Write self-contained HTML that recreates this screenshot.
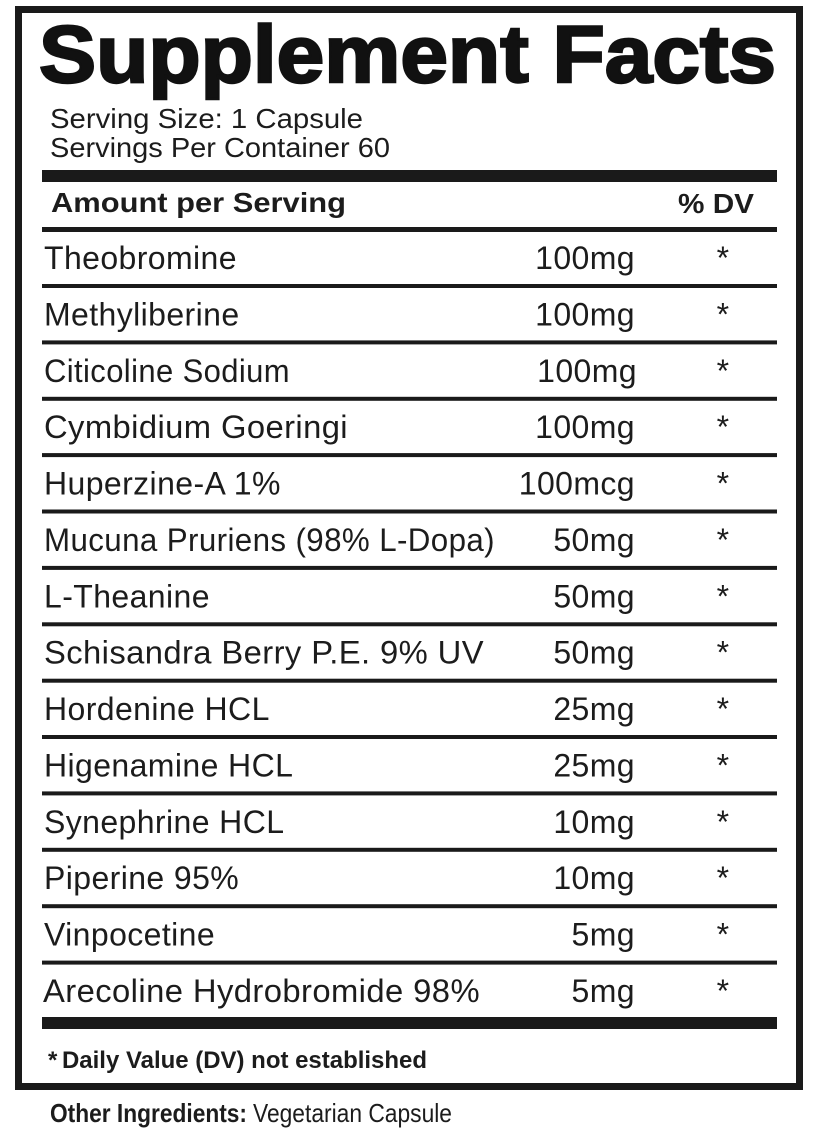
<!DOCTYPE html>
<html>
<head>
<meta charset="utf-8">
<style>
  html, body { margin: 0; padding: 0; background: #ffffff; }
  body { width: 816px; height: 1141px; overflow: hidden; }
  svg { display: block; }
  text { font-family: "Liberation Sans", Arial, sans-serif; fill: #1c1c1c; }
  .b { font-weight: 700; }
  .row { font-size: 32px; letter-spacing: 0.4px; }
</style>
</head>
<body>
<svg width="816" height="1141" viewBox="0 0 816 1141" xmlns="http://www.w3.org/2000/svg">
  <rect x="0" y="0" width="816" height="1141" fill="#ffffff"/>
  <!-- outer border -->
  <rect x="18.5" y="9.5" width="781" height="1077" fill="none" stroke="#1a1a1a" stroke-width="7"/>

  <!-- title -->
  <text x="39" y="82" class="b" font-size="81" stroke="#111" stroke-width="2.4" style="fill:#111" textLength="737" lengthAdjust="spacingAndGlyphs">Supplement Facts</text>

  <!-- serving info -->
  <text x="50" y="128" font-size="28" textLength="313" lengthAdjust="spacingAndGlyphs">Serving Size: 1 Capsule</text>
  <text x="50" y="157" font-size="28" textLength="340" lengthAdjust="spacingAndGlyphs">Servings Per Container 60</text>

  <rect x="42" y="170" width="735" height="12" fill="#1a1a1a"/>

  <text x="51" y="212" class="b" font-size="28" textLength="295" lengthAdjust="spacingAndGlyphs">Amount per Serving</text>
  <text x="678" y="213" class="b" font-size="28" textLength="76" lengthAdjust="spacingAndGlyphs">% DV</text>

  <rect x="42" y="227" width="735" height="5" fill="#1a1a1a"/>

  <!-- rows -->
  <g class="row">
    <text x="44" y="269">Theobromine</text>
    <text x="635" y="269" text-anchor="end">100mg</text>
    <text x="723" y="269" text-anchor="middle">*</text>

    <text x="44" y="325.4">Methyliberine</text>
    <text x="635" y="325.4" text-anchor="end">100mg</text>
    <text x="723" y="325.4" text-anchor="middle">*</text>

    <text x="44" y="381.8" textLength="246" lengthAdjust="spacingAndGlyphs">Citicoline Sodium</text>
    <text x="637" y="381.8" text-anchor="end">100mg</text>
    <text x="723" y="381.8" text-anchor="middle">*</text>

    <text x="44" y="438.1" textLength="304" lengthAdjust="spacingAndGlyphs">Cymbidium Goeringi</text>
    <text x="635" y="438.1" text-anchor="end">100mg</text>
    <text x="723" y="438.1" text-anchor="middle">*</text>

    <text x="44" y="494.5">Huperzine-A 1%</text>
    <text x="635" y="494.5" text-anchor="end">100mcg</text>
    <text x="723" y="494.5" text-anchor="middle">*</text>

    <text x="44" y="550.9" textLength="451" lengthAdjust="spacingAndGlyphs">Mucuna Pruriens (98% L-Dopa)</text>
    <text x="635" y="550.9" text-anchor="end">50mg</text>
    <text x="723" y="550.9" text-anchor="middle">*</text>

    <text x="44" y="607.3">L-Theanine</text>
    <text x="635" y="607.3" text-anchor="end">50mg</text>
    <text x="723" y="607.3" text-anchor="middle">*</text>

    <text x="44" y="663.7" textLength="440" lengthAdjust="spacingAndGlyphs">Schisandra Berry P.E. 9% UV</text>
    <text x="635" y="663.7" text-anchor="end">50mg</text>
    <text x="723" y="663.7" text-anchor="middle">*</text>

    <text x="44" y="720">Hordenine HCL</text>
    <text x="635" y="720" text-anchor="end">25mg</text>
    <text x="723" y="720" text-anchor="middle">*</text>

    <text x="44" y="776.4">Higenamine HCL</text>
    <text x="635" y="776.4" text-anchor="end">25mg</text>
    <text x="723" y="776.4" text-anchor="middle">*</text>

    <text x="44" y="832.8">Synephrine HCL</text>
    <text x="635" y="832.8" text-anchor="end">10mg</text>
    <text x="723" y="832.8" text-anchor="middle">*</text>

    <text x="44" y="889.2">Piperine 95%</text>
    <text x="635" y="889.2" text-anchor="end">10mg</text>
    <text x="723" y="889.2" text-anchor="middle">*</text>

    <text x="44" y="945.6">Vinpocetine</text>
    <text x="635" y="945.6" text-anchor="end">5mg</text>
    <text x="723" y="945.6" text-anchor="middle">*</text>

    <text x="43" y="1001.9" textLength="437" lengthAdjust="spacingAndGlyphs">Arecoline Hydrobromide 98%</text>
    <text x="635" y="1001.9" text-anchor="end">5mg</text>
    <text x="723" y="1001.9" text-anchor="middle">*</text>
  </g>

  <!-- row separators -->
  <g fill="#1a1a1a">
    <rect x="42" y="284" width="735" height="4"/>
    <rect x="42" y="340.4" width="735" height="4"/>
    <rect x="42" y="396.8" width="735" height="4"/>
    <rect x="42" y="453.1" width="735" height="4"/>
    <rect x="42" y="509.5" width="735" height="4"/>
    <rect x="42" y="565.9" width="735" height="4"/>
    <rect x="42" y="622.3" width="735" height="4"/>
    <rect x="42" y="678.7" width="735" height="4"/>
    <rect x="42" y="735" width="735" height="4"/>
    <rect x="42" y="791.4" width="735" height="4"/>
    <rect x="42" y="847.8" width="735" height="4"/>
    <rect x="42" y="904.2" width="735" height="4"/>
    <rect x="42" y="960.6" width="735" height="4"/>
  </g>

  <rect x="42" y="1017" width="735" height="12" fill="#1a1a1a"/>

  <!-- footnote -->
  <text x="48" y="1068" class="b" font-size="24">*</text>
  <text x="62" y="1068" class="b" font-size="24" textLength="365" lengthAdjust="spacingAndGlyphs">Daily Value (DV) not established</text>

  <!-- other ingredients -->
  <text x="50" y="1122" class="b" font-size="26" textLength="197" lengthAdjust="spacingAndGlyphs">Other Ingredients:</text>
  <text x="253" y="1122" font-size="26" textLength="199" lengthAdjust="spacingAndGlyphs">Vegetarian Capsule</text>
</svg>
</body>
</html>
